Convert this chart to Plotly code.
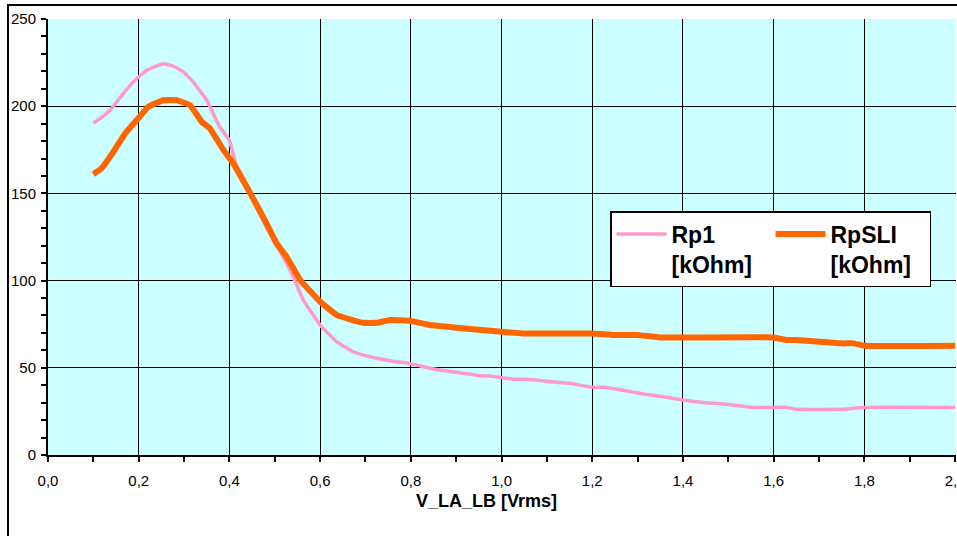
import plotly.graph_objects as go

# Rp1 [kOhm] series (pink)
rp1_x = [0.10, 0.115, 0.137, 0.166, 0.19, 0.218, 0.254, 0.276, 0.298, 0.32, 0.35, 0.379,
         0.40, 0.416, 0.445, 0.465, 0.485, 0.50, 0.534, 0.563, 0.60, 0.637, 0.673, 0.71,
         0.754, 0.798, 0.83, 0.864, 0.90, 0.953, 0.975, 1.026, 1.055, 1.10, 1.151, 1.20,
         1.225, 1.27, 1.313, 1.36, 1.40, 1.45, 1.50, 1.555, 1.629, 1.651, 1.746, 1.80, 2.00]
rp1_y = [190.4, 193, 197.7, 207.3, 214.5, 220.6, 224.4, 223, 219.7, 213.9, 203.4, 188,
         180.5, 165.2, 150, 139, 129, 122, 106, 88.8, 74.5, 64.9, 59.2, 56.3,
         54, 52.5, 50.5, 48.7, 47.5, 45.4, 45.3, 43.4, 43.4, 42.3, 41.1, 38.8,
         38.8, 37, 35, 33.2, 31.5, 30, 29, 27.3, 27.3, 26.2, 26.2, 27.3, 27.3]

# RpSLI [kOhm] series (orange)
rpsli_x = [0.10, 0.118, 0.144, 0.17, 0.199, 0.221, 0.254, 0.284, 0.313, 0.339, 0.357, 0.387,
           0.409, 0.445, 0.478, 0.504, 0.526, 0.556, 0.60, 0.637, 0.695, 0.725, 0.754, 0.798,
           0.842, 0.90, 1.00, 1.046, 1.20, 1.247, 1.298, 1.35, 1.60, 1.629, 1.651, 1.753,
           1.776, 1.80, 2.00]
rpsli_y = [161, 164.3, 173.8, 184.3, 193, 199.6, 203.4, 203.4, 200.6, 191, 187.2, 174.8,
           167, 150.5, 134.7, 121.3, 113.6, 100.3, 87.9, 80.2, 75.8, 75.8, 77.4, 77,
           74.5, 73, 70.7, 69.7, 69.7, 68.8, 68.8, 67.4, 67.4, 65.9, 65.9, 64,
           64, 62.6, 62.6]

names = ["Rp1<br>[kOhm]", "RpSLI<br>[kOhm]"]
x_title = "V_LA_LB [Vrms]"

FONT = "Arial, Liberation Sans, sans-serif"

fig = go.Figure()
fig.add_trace(go.Scatter(x=rp1_x, y=rp1_y, mode="lines", name=names[0],
                         line=dict(color="#FF99CC", width=3.5, shape="spline", smoothing=0.3)))
fig.add_trace(go.Scatter(x=rpsli_x, y=rpsli_y, mode="lines", name=names[1],
                         line=dict(color="#FF6600", width=6, shape="spline", smoothing=0.3)))

W, H = 957, 536
ml, mt, mr, mb = 48, 19, 1, 81
pw = W - ml - mr
ph = H - mt - mb

fig.update_layout(
    width=W, height=H,
    margin=dict(l=ml, r=mr, t=mt, b=mb, pad=0, autoexpand=False),
    paper_bgcolor="white",
    plot_bgcolor="#CCFFFF",
    separators=", ",
    font=dict(family=FONT, size=15, color="black"),
    showlegend=True,
    legend=dict(
        x=(610 - ml) / pw, y=(455 - 211) / ph, xanchor="left", yanchor="top",
        orientation="h", bgcolor="white", bordercolor="black", borderwidth=1.5,
        font=dict(family=FONT, size=23, color="black", weight="bold"),
        valign="top", entrywidth=94, itemwidth=50, tracegroupgap=0,
    ),
    xaxis=dict(
        range=[0, 2.002], dtick=0.2, tick0=0, tickformat=".1f",
        showgrid=True, gridcolor="black", gridwidth=1,
        showline=True, linecolor="black", linewidth=2,
        ticks="outside", ticklen=5, tickwidth=2, tickcolor="black",
        minor=dict(dtick=0.1, ticks="outside", ticklen=5, tickwidth=2, tickcolor="black", showgrid=False),
        zeroline=False, ticklabelstandoff=6, automargin=False, ticklabeloverflow="allow",
        tickfont=dict(family=FONT, size=15, color="black"),
    ),
    yaxis=dict(
        range=[0, 250], dtick=50, tick0=0,
        showgrid=True, gridcolor="black", gridwidth=1,
        showline=True, linecolor="black", linewidth=2,
        ticks="outside", ticklen=5, tickwidth=2, tickcolor="black",
        minor=dict(dtick=10, ticks="outside", ticklen=5, tickwidth=2, tickcolor="black", showgrid=False),
        zeroline=False, ticklabelstandoff=2, automargin=False,
        tickfont=dict(family=FONT, size=15, color="black"),
    ),
)

fig.add_annotation(
    text="<b>" + x_title + "</b>", xref="paper", yref="paper",
    x=(486 - ml) / pw, y=(455 - 501) / ph, xanchor="center", yanchor="middle",
    showarrow=False, font=dict(family=FONT, size=18, color="black"),
)

# outer chart border
fig.add_shape(type="rect", xref="paper", yref="paper",
              x0=(8 - ml) / pw, x1=1.2, y0=-0.5, y1=(455 - 5) / ph,
              line=dict(color="black", width=2), fillcolor="rgba(0,0,0,0)", layer="below")

fig.write_html("out.html")
